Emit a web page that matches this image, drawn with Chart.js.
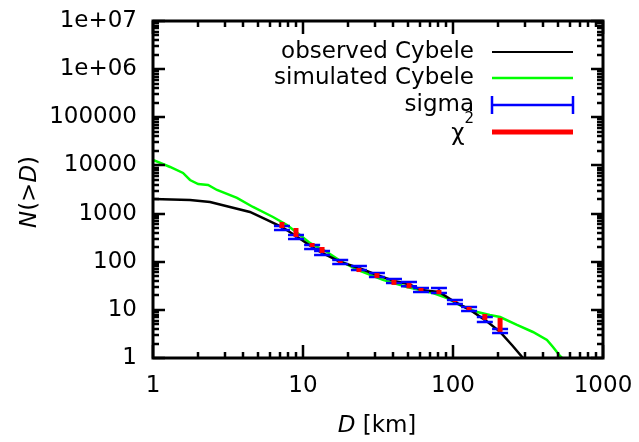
<!DOCTYPE html>
<html>
<head>
<meta charset="utf-8">
<script src="https://cdn.jsdelivr.net/npm/chart.js@4.4.0/dist/chart.umd.min.js"></script>
<style>
  html, body { margin: 0; padding: 0; background: #ffffff; }
  canvas { display: block; }
</style>
</head>
<body>
<canvas id="sizeChart" width="639" height="442"></canvas>
<script>
// observed Cybele cumulative size distribution
const obsD = [1, 1.765, 2.40, 3.26, 4.43, 5.75, 7.24, 8.98, 11.5, 13.4, 17.7, 23.6, 31.1, 40.4, 50.9, 61.2, 80.6, 103, 130, 163, 206, 247, 293];
const obsN = [2010, 1915, 1740, 1370, 1080, 736, 526, 342, 202, 152, 99, 74, 53, 40, 34, 26, 23.5, 14.6, 9.9, 6.2, 3.5, 1.86, 1];

// simulated Cybele
const simD = [1, 1.30, 1.585, 1.765, 2.0, 2.33, 2.67, 3.63, 4.64, 6.31, 7.82, 9.55, 11.1, 14.45, 17.7, 23.3, 34.1, 49.4, 73.6, 91.2, 111, 145, 176, 206, 267, 341, 423, 464, 517, 533];
const simN = [12970, 9290, 6970, 4980, 4110, 3925, 3090, 2110, 1370, 849, 580, 359, 245, 159, 104, 67, 42, 29.9, 22.4, 17.6, 12.6, 9.0, 7.8, 7.1, 4.85, 3.47, 2.37, 1.69, 1.1, 1];

// bins used for the fit: sigma error bars and chi^2 segments
const binD = [7.24, 8.98, 11.5, 13.4, 17.7, 23.6, 31.1, 40.4, 50.9, 61.2, 80.6, 103, 128, 163, 206];
const errHi = [552, 359, 223, 167, 109, 81, 58, 44, 38, 28.5, 28.5, 16.0, 11.5, 7.1, 4.0];
const errLo = [456, 297, 184, 138, 90, 67, 48, 36, 31, 23.5, 22.4, 13.2, 9.5, 5.6, 3.3];
const chiHi = [668, 502, 245, 202, 103, 74, 58, 42, 36, 28.5, 25.9, 15.3, 11.5, 8.2, 6.8];
const chiLo = [502, 326, 202, 152, 94, 61, 46, 33, 28, 24.6, 21.3, 14.6, 9.9, 6.2, 3.5];

const xTickValues = [1, 10, 100, 1000];
const xTickLabels = ['1', '10', '100', '1000'];
const yTickValues = [1, 10, 100, 1000, 10000, 100000, 1000000, 10000000];
const yTickLabels = ['1', '10', '100', '1000', '10000', '100000', '1e+06', '1e+07'];

const legendLabels = ['observed Cybele', 'simulated Cybele', 'sigma', 'χ'];

const FONT = 'DejaVu Sans';
const FS = 23;
const BLUE = '#0000ff';
const RED = '#ff0000';
const GREEN = '#00ff00';

const toPoints = (xs, ys) => xs.map((x, i) => ({ x, y: ys[i] }));
const font = (italic, size) => (italic ? 'italic ' : '') + size + 'px "' + FONT + '"';

const decorPlugin = {
    id: 'decor',
    afterDatasetsDraw(chart) {
        const ctx = chart.ctx;
        const xs = chart.scales.x;
        const ys = chart.scales.y;
        ctx.save();
        // sigma error bars
        ctx.strokeStyle = BLUE;
        ctx.lineWidth = 2.5;
        binD.forEach((d, i) => {
            const px = xs.getPixelForValue(d);
            const yh = ys.getPixelForValue(errHi[i]);
            const yl = ys.getPixelForValue(errLo[i]);
            ctx.beginPath();
            ctx.moveTo(px, yl); ctx.lineTo(px, yh);
            ctx.moveTo(px - 8, yh); ctx.lineTo(px + 8, yh);
            ctx.moveTo(px - 8, yl); ctx.lineTo(px + 8, yl);
            ctx.stroke();
        });
        // chi^2 segments
        ctx.strokeStyle = RED;
        ctx.lineWidth = 5;
        binD.forEach((d, i) => {
            const px = xs.getPixelForValue(d);
            ctx.beginPath();
            ctx.moveTo(px, ys.getPixelForValue(chiLo[i]));
            ctx.lineTo(px, ys.getPixelForValue(chiHi[i]));
            ctx.stroke();
        });
        ctx.restore();
    },
    afterDraw(chart) {
        const ctx = chart.ctx;
        const area = chart.chartArea;
        const xs = chart.scales.x;
        const ys = chart.scales.y;
        ctx.save();
        ctx.strokeStyle = '#000';

        // inward ticks on all four sides
        ctx.lineWidth = 2.5;
        ctx.beginPath();
        for (let k = 0; k < 3; k++) {
            for (let m = 1; m <= 10; m++) {
                const v = m * Math.pow(10, k);
                const px = Math.round(xs.getPixelForValue(v));
                const len = (m === 1 || m === 10) ? 13 : 6;
                ctx.moveTo(px, area.bottom); ctx.lineTo(px, area.bottom - len);
                ctx.moveTo(px, area.top); ctx.lineTo(px, area.top + len);
            }
        }
        for (let k = 0; k < 7; k++) {
            for (let m = 1; m <= 10; m++) {
                const v = m * Math.pow(10, k);
                const py = Math.round(ys.getPixelForValue(v));
                const len = (m === 1 || m === 10) ? 12 : 6;
                ctx.moveTo(area.left, py); ctx.lineTo(area.left + len, py);
                ctx.moveTo(area.right, py); ctx.lineTo(area.right - len, py);
            }
        }
        ctx.stroke();

        // frame
        ctx.lineWidth = 3;
        ctx.strokeRect(area.left, area.top, area.right - area.left, area.bottom - area.top);

        ctx.fillStyle = '#000';
        ctx.textBaseline = 'alphabetic';

        // x axis title: D [km]
        const xt1 = 'D', xt2 = ' [km]';
        ctx.font = font(true, FS);
        const w1 = ctx.measureText(xt1).width;
        ctx.font = font(false, FS);
        const w2 = ctx.measureText(xt2).width;
        const sx = 377 - (w1 + w2) / 2;
        ctx.font = font(true, FS);
        ctx.fillText(xt1, sx, 432);
        ctx.font = font(false, FS);
        ctx.fillText(xt2, sx + w1, 432);

        // y axis title: N(>D)
        ctx.save();
        ctx.translate(36, 192);
        ctx.rotate(-Math.PI / 2);
        const parts = [['N', true], ['(>', false], ['D', true], [')', false]];
        let total = 0;
        parts.forEach(p => {
            ctx.font = font(p[1], FS);
            total += ctx.measureText(p[0]).width;
        });
        let cx = -total / 2;
        parts.forEach(p => {
            ctx.font = font(p[1], FS);
            ctx.fillText(p[0], cx, 0);
            cx += ctx.measureText(p[0]).width;
        });
        ctx.restore();

        // legend
        const rowY = [52, 78, 105, 132];
        const textRight = 474;
        const lx0 = 492, lx1 = 573;
        ctx.font = font(false, FS);
        ctx.textBaseline = 'middle';
        ctx.textAlign = 'right';
        ctx.fillText(legendLabels[0], textRight, rowY[0]);
        ctx.fillText(legendLabels[1], textRight, rowY[1]);
        ctx.fillText(legendLabels[2], textRight, rowY[2]);
        // chi with superscript 2
        ctx.font = font(false, 15);
        const supW = ctx.measureText('2').width;
        ctx.fillText('2', textRight, rowY[3] - 13);
        ctx.font = font(false, FS);
        ctx.fillText(legendLabels[3], textRight - supW, rowY[3] + 2);

        ctx.lineWidth = 2;
        ctx.strokeStyle = '#000';
        ctx.beginPath(); ctx.moveTo(lx0, rowY[0]); ctx.lineTo(lx1, rowY[0]); ctx.stroke();
        ctx.strokeStyle = GREEN;
        ctx.lineWidth = 2.5;
        ctx.beginPath(); ctx.moveTo(lx0, rowY[1]); ctx.lineTo(lx1, rowY[1]); ctx.stroke();
        ctx.strokeStyle = BLUE;
        ctx.beginPath();
        ctx.moveTo(lx0, rowY[2]); ctx.lineTo(lx1, rowY[2]);
        ctx.moveTo(lx0, rowY[2] - 9); ctx.lineTo(lx0, rowY[2] + 9);
        ctx.moveTo(lx1, rowY[2] - 9); ctx.lineTo(lx1, rowY[2] + 9);
        ctx.stroke();
        ctx.strokeStyle = RED;
        ctx.lineWidth = 5;
        ctx.beginPath(); ctx.moveTo(lx0, rowY[3]); ctx.lineTo(lx1, rowY[3]); ctx.stroke();

        ctx.restore();
    }
};

const ctx = document.getElementById('sizeChart');
new Chart(ctx, {
    type: 'line',
    data: {
        datasets: [
            {
                label: 'observed Cybele',
                data: toPoints(obsD, obsN),
                borderColor: '#000000',
                borderWidth: 2.5,
                pointRadius: 0,
                tension: 0,
                fill: false
            },
            {
                label: 'simulated Cybele',
                data: toPoints(simD, simN),
                borderColor: GREEN,
                borderWidth: 2.5,
                pointRadius: 0,
                tension: 0,
                fill: false
            }
        ]
    },
    options: {
        responsive: false,
        devicePixelRatio: 1,
        animation: false,
        layout: { padding: { top: 21, right: 36, left: 0, bottom: 0 } },
        plugins: {
            legend: { display: false },
            tooltip: { enabled: false }
        },
        scales: {
            x: {
                type: 'logarithmic',
                min: 1,
                max: 1000,
                grid: { display: false, drawTicks: false },
                border: { display: false },
                afterBuildTicks: (scale) => {
                    scale.ticks = xTickValues.map(v => ({ value: v }));
                },
                afterFit: (scale) => {
                    scale.height = 84;
                    scale.paddingLeft = 0;
                    scale.paddingRight = 0;
                },
                ticks: {
                    autoSkip: false,
                    maxRotation: 0,
                    padding: 14,
                    color: '#000',
                    font: { family: FONT, size: FS },
                    callback: (value, index) => xTickLabels[index]
                }
            },
            y: {
                type: 'logarithmic',
                min: 1,
                max: 10000000,
                grid: { display: false, drawTicks: false },
                border: { display: false },
                afterBuildTicks: (scale) => {
                    scale.ticks = yTickValues.map(v => ({ value: v }));
                },
                afterFit: (scale) => {
                    scale.width = 153;
                    scale.paddingTop = 0;
                    scale.paddingBottom = 0;
                },
                ticks: {
                    autoSkip: false,
                    padding: 16,
                    color: '#000',
                    font: { family: FONT, size: FS },
                    callback: (value, index) => yTickLabels[index]
                }
            }
        }
    },
    plugins: [decorPlugin]
});
</script>
</body>
</html>
